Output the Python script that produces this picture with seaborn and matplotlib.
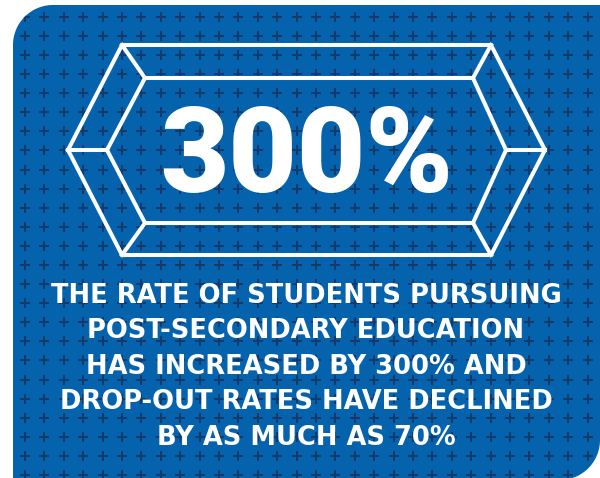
import numpy as np
import pandas as pd
import matplotlib.pyplot as plt
from matplotlib.path import Path
from matplotlib.patches import PathPatch
import seaborn as sns

# Content of the infographic
HEADLINE = '300%'
BODY_LINES = [
    'THE RATE OF STUDENTS PURSUING',
    'POST-SECONDARY EDUCATION',
    'HAS INCREASED BY 300% AND',
    'DROP-OUT RATES HAVE DECLINED',
    'BY AS MUCH AS 70%',
]

# Bevelled hexagon frame (pixel space, y downwards)
OUTER_HEX_X = [68, 122, 491, 545, 491, 122]
OUTER_HEX_Y = [150, 45, 45, 150, 255, 255]
INNER_HEX_X = [107, 145, 473, 506, 473, 145]
INNER_HEX_Y = [150, 78, 78, 150, 223, 223]

BLUE  = '#0563ae'
CROSS = '#133a6a'
W, H  = 600, 478


def panel_path(x0, y0, x1, y1, r):
    '''Rectangle with rounded top-left and bottom-right corners.'''
    t1 = np.linspace(np.pi, 1.5 * np.pi, 30)
    t2 = np.linspace(0, 0.5 * np.pi, 30)
    pts = [(x0 + r + r * np.cos(t), y0 + r + r * np.sin(t)) for t in t1]
    pts += [(x1, y0)]
    pts += [(x1 - r + r * np.cos(t), y1 - r + r * np.sin(t)) for t in t2]
    pts += [(x0, y1), pts[0]]
    return Path(pts, closed=True)


fig = plt.figure(figsize=(6, 4.78), dpi=100)
ax = fig.add_axes([0, 0, 1, 1])

# 1: blue panel
panel = PathPatch(panel_path(13, 5, 600, 480, 40), facecolor=BLUE, edgecolor='none', zorder=0)
ax.add_patch(panel)

# 2: cross pattern
gx, gy = np.meshgrid(np.arange(25, 600, 19.4), np.arange(16.7, 480, 19.1))
crosses = pd.DataFrame({'x': gx.ravel(), 'y': gy.ravel()})
sns.scatterplot(data=crosses, x='x', y='y', marker='+', s=42, color=CROSS,
                linewidth=1.4, ax=ax, zorder=1, legend=False)
ax.collections[-1].set_clip_path(panel)
ax.set_xlim(0, W)
ax.set_ylim(H, 0)
ax.axis('off')

# 3: hexagon frame
line_kw = dict(color='white', lw=2.9, solid_joinstyle='miter', zorder=2)
ax.plot(OUTER_HEX_X + OUTER_HEX_X[:1], OUTER_HEX_Y + OUTER_HEX_Y[:1], **line_kw)
ax.plot(INNER_HEX_X + INNER_HEX_X[:1], INNER_HEX_Y + INNER_HEX_Y[:1], **line_kw)
for ox, oy, ix, iy in zip(OUTER_HEX_X, OUTER_HEX_Y, INNER_HEX_X, INNER_HEX_Y):
    ax.plot([ox, ix], [oy, iy], **line_kw)

# 4: text
ax.text(307, 192, HEADLINE, color='white', fontsize=85, fontweight='black',
        family=['Roboto', 'DejaVu Sans'], ha='center', va='baseline', zorder=3)
for i, line in enumerate(BODY_LINES):
    ax.text(306, 303 + 35.4 * i, line, color='white', fontsize=18.5, fontweight='bold',
            family=['DejaVu Sans'], ha='center', va='baseline', zorder=3)

fig.savefig('out.png', dpi=100)
